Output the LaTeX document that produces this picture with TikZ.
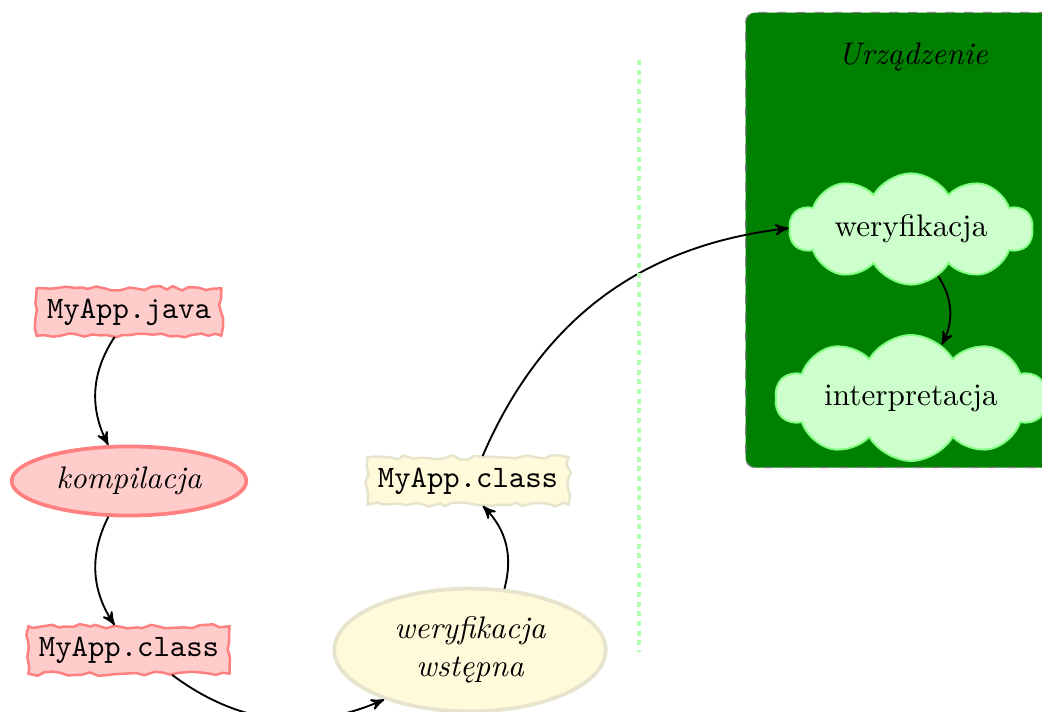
\documentclass[tikz,border=0pt]{standalone}
\usetikzlibrary{shapes.geometric,shapes.symbols,decorations.pathmorphing,arrows}
\definecolor{paleyellow}{RGB}{255,250,218}
\definecolor{khaki}{RGB}{230,228,205}
\begin{document}
\begin{tikzpicture}[x=0.3205pt,y=0.3205pt,
  >=stealth',
  link/.style={->,semithick},
  torn/.style={draw, thick, decorate,
    decoration={random steps, segment length=2.5pt, amplitude=0.7pt},
    font=\ttfamily},
  hostfile/.style={torn, fill=red!20, draw=red!50},
  hoststep/.style={ellipse, draw=red!50, fill=red!20, very thick, font=\itshape},
  devfile/.style={torn, fill=paleyellow, draw=khaki},
  devstep/.style={ellipse, draw=khaki, fill=paleyellow, very thick, font=\itshape, align=center,
    minimum width=87pt, minimum height=39pt},
  vmstep/.style={cloud, cloud puffs=10, cloud puff arc=120, aspect=3, inner sep=1pt,
    draw=green!50, fill=green!20, semithick}]
\path[use as bounding box, clip] (0,0) rectangle (1042,712);
\pgfmathsetseed{7}

% device area
\node (devbox) [fill=green!50!black, draw=gray, dashed, rounded corners=3pt,
  minimum width=130pt, minimum height=145.8pt, anchor=north west] at (745,700) {};
\node (devlabel) [font=\itshape] at (913,655) {Urządzenie};

% host side
\node (src) [hostfile] at (129,400) {MyApp.java};
\node (comp) [hoststep] at (129,231) {kompilacja};
\node (cls) [hostfile] at (129,62) {MyApp.class};

% pre-verification
\node (pre) [devstep] at (470,62) {weryfikacja\\wstępna};
\node (cls2) [devfile] at (468,231) {MyApp.class};

% virtual machine on the device
\node (ver) [vmstep, minimum width=78pt, minimum height=32pt] at (911,483) {weryfikacja};
\node (interp) [vmstep, minimum width=87pt, minimum height=31.5pt] at (911,314) {interpretacja};

\draw[link] (src) to[bend right] (comp);
\draw[link] (comp) to[bend right] (cls);
\draw[link] (cls) to[bend right] (pre);
\draw[link] (pre) to[bend right] (cls2);
\draw[link] (cls2) to[bend left] (ver);
\draw[link] (ver) to[bend left] (interp);

% boundary between host and device
\coordinate (bt) at (639,652);
\coordinate (bb) at (639,60);
\draw[green!30, line width=1.4pt, dash pattern=on 1.6pt off 1.5pt] (bt) -- (bb);
\end{tikzpicture}
\end{document}
